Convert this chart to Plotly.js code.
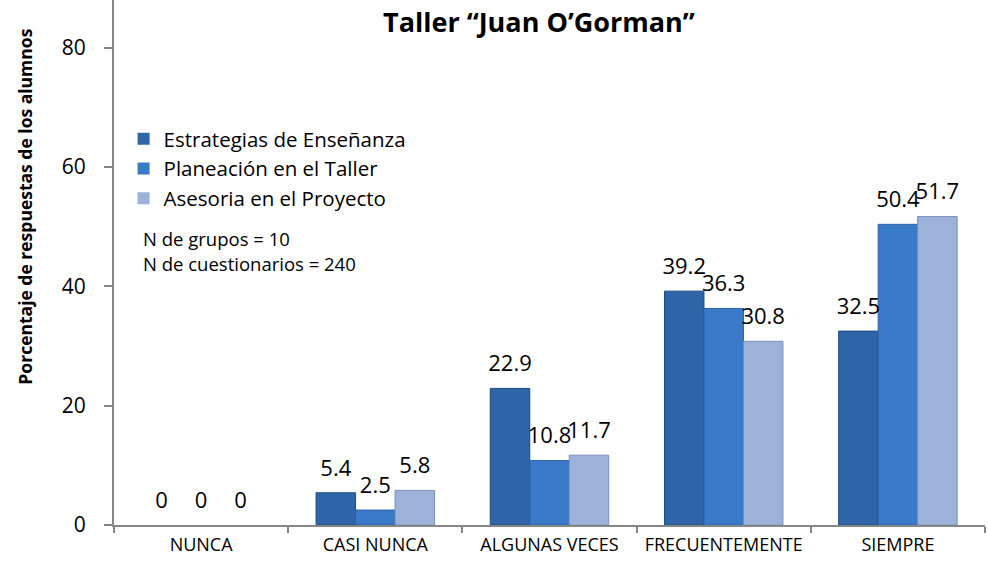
<!DOCTYPE html>
<html>
<head>
<meta charset="utf-8">
<script src="https://cdn.plot.ly/plotly-3.0.1.min.js"></script>
<style>html,body{margin:0;padding:0;background:#fff;}#chart{width:988px;height:566px;}</style>
</head>
<body>
<div id="chart"></div>
<script>
const categories = ["NUNCA", "CASI NUNCA", "ALGUNAS VECES", "FRECUENTEMENTE", "SIEMPRE"];
const seriesNames = ["Estrategias de Enseñanza", "Planeación en el Taller", "Asesoria en el Proyecto"];
const estrategias = [0, 5.4, 22.9, 39.2, 32.5];
const planeacion = [0, 2.5, 10.8, 36.3, 50.4];
const asesoria = [0, 5.8, 11.7, 30.8, 51.7];
const yTicks = [0, 20, 40, 60, 80];

const fills = ["#2E64A8", "#3A7AC9", "#9DB2D8"];
const edges = ["#1E4A80", "#2A60A6", "#7890BA"];
const FONT = "Open Sans, DejaVu Sans, sans-serif";

const values = [estrategias, planeacion, asesoria];
const barTraces = values.map((v, i) => ({
  type: "bar",
  name: seriesNames[i],
  x: categories,
  y: v,
  marker: {color: fills[i], line: {color: edges[i], width: v.map(n => n === 0 ? 0 : 1)}},
  hoverinfo: "x+y+name"
}));
const labelTraces = values.map((v, i) => ({
  type: "scatter",
  mode: "markers+text",
  name: seriesNames[i] + " (valores)",
  showlegend: false,
  x: categories,
  y: v,
  text: v.map(n => String(n)),
  textposition: "top center",
  textfont: {family: FONT, size: 22, color: "#000"},
  marker: {size: 17, opacity: 0, color: fills[i]},
  cliponaxis: false,
  hoverinfo: "skip"
}));

const layout = {
  width: 988, height: 566,
  margin: {l: 114, r: 3, t: 0, b: 41},
  paper_bgcolor: "#fff", plot_bgcolor: "#fff",
  font: {family: FONT, color: "#000"},
  barmode: "group",
  bargap: 0.32,
  bargroupgap: 0,
  scattermode: "group",
  scattergap: 0.32,
  title: {
    text: "<b>Taller “Juan O’Gorman”</b>",
    font: {family: FONT, size: 27, color: "#000"},
    x: 0.5455, xref: "container", xanchor: "center",
    y: 0.961, yref: "container", yanchor: "middle"
  },
  xaxis: {
    type: "category",
    showline: true, linecolor: "#868686", linewidth: 2,
    ticks: "outside", tickson: "boundaries", ticklen: 6, tickcolor: "#868686", tickwidth: 2,
    tickfont: {family: FONT, size: 18, color: "#000"},
    ticklabelstandoff: 2,
    showgrid: false, zeroline: false, fixedrange: true
  },
  yaxis: {
    range: [0, 88],
    tickvals: yTicks,
    ticktext: yTicks.map(String),
    showline: true, linecolor: "#868686", linewidth: 2,
    ticks: "outside", ticklen: 8, tickcolor: "#868686", tickwidth: 2,
    tickfont: {family: FONT, size: 21, color: "#000"},
    ticklabelstandoff: 14,
    showgrid: false, zeroline: false, fixedrange: true
  },
  legend: {
    x: 0.011, y: 0.7733, xanchor: "left", yanchor: "top",
    bgcolor: "rgba(0,0,0,0)",
    font: {family: FONT, size: 20.5, color: "#000"},
    traceorder: "normal"
  },
  showlegend: true,
  annotations: [
    {
      text: "<b>Porcentaje de respuestas de los alumnos</b>",
      xref: "paper", yref: "paper",
      x: -0.102, y: 0.6067, xanchor: "center", yanchor: "middle",
      textangle: -90, showarrow: false,
      font: {family: FONT, size: 17.5, color: "#000"}
    },
    {
      text: "N de grupos = 10",
      xref: "paper", yref: "paper",
      x: 0.031, y: 0.545, xanchor: "left", yanchor: "middle",
      showarrow: false, font: {family: FONT, size: 18.5, color: "#000"}
    },
    {
      text: "N de cuestionarios = 240",
      xref: "paper", yref: "paper",
      x: 0.031, y: 0.499, xanchor: "left", yanchor: "middle",
      showarrow: false, font: {family: FONT, size: 18.5, color: "#000"}
    }
  ]
};

Plotly.newPlot("chart", barTraces.concat(labelTraces), layout, {displayModeBar: false, staticPlot: true});
</script>
</body>
</html>
